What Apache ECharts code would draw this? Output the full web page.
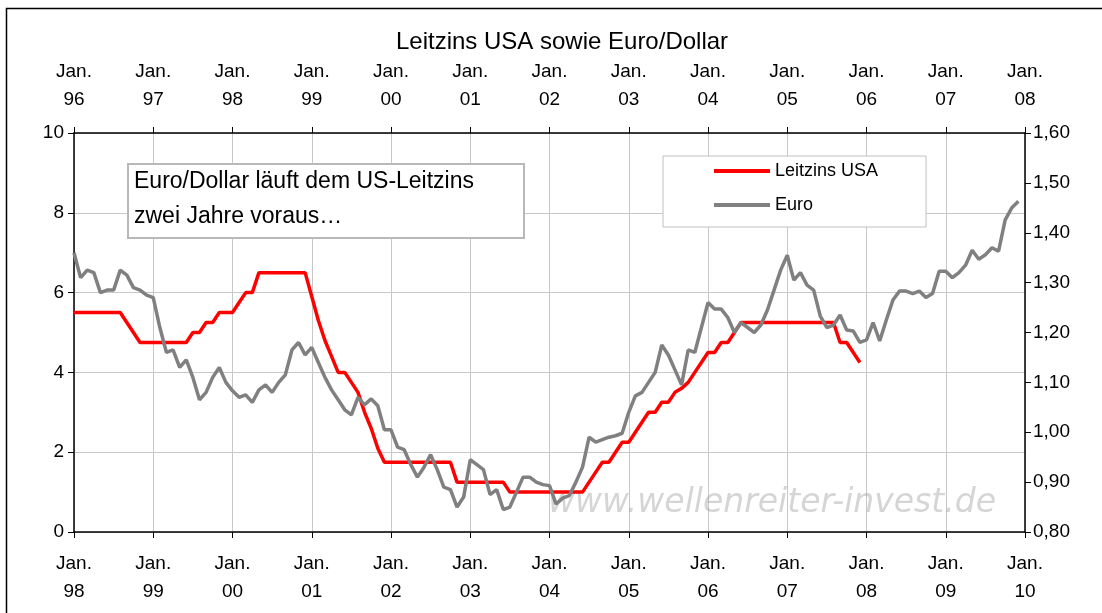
<!DOCTYPE html>
<html>
<head>
<meta charset="utf-8">
<script src="https://cdn.jsdelivr.net/npm/echarts@6/dist/echarts.min.js"></script>
<style>
  html, body { margin: 0; padding: 0; background: #fff; }
  #chart { width: 1102px; height: 613px; }
</style>
</head>
<body>
<div id="chart"></div>
<script>
// Leitzins USA, monatlich ab Jan. 98 (untere Achse)
var leitzinsValues = [
    5.5, 5.5, 5.5, 5.5, 5.5, 5.5, 5.5, 5.5, 5.25, 5.0, 4.75, 4.75,
    4.75, 4.75, 4.75, 4.75, 4.75, 4.75, 5.0, 5.0, 5.25, 5.25, 5.5, 5.5,
    5.5, 5.75, 6.0, 6.0, 6.5, 6.5, 6.5, 6.5, 6.5, 6.5, 6.5, 6.5,
    5.9, 5.3, 4.8, 4.4, 4.0, 4.0, 3.75, 3.5, 3.0, 2.6, 2.1, 1.75,
    1.75, 1.75, 1.75, 1.75, 1.75, 1.75, 1.75, 1.75, 1.75, 1.75, 1.25, 1.25,
    1.25, 1.25, 1.25, 1.25, 1.25, 1.25, 1.0, 1.0, 1.0, 1.0, 1.0, 1.0,
    1.0, 1.0, 1.0, 1.0, 1.0, 1.0, 1.25, 1.5, 1.75, 1.75, 2.0, 2.25,
    2.25, 2.5, 2.75, 3.0, 3.0, 3.25, 3.25, 3.5, 3.6, 3.75, 4.0, 4.25,
    4.5, 4.5, 4.75, 4.75, 5.0, 5.25, 5.25, 5.25, 5.25, 5.25, 5.25, 5.25,
    5.25, 5.25, 5.25, 5.25, 5.25, 5.25, 5.25, 5.25, 4.75, 4.75, 4.5, 4.25
];
// Euro/Dollar, monatlich ab Jan. 96 (obere Achse)
var euroValues = [
    1.36, 1.31, 1.325, 1.32, 1.28, 1.285, 1.285, 1.325, 1.315, 1.29, 1.285, 1.275,
    1.27, 1.21, 1.16, 1.165, 1.13, 1.145, 1.11, 1.065, 1.08, 1.11, 1.13, 1.10,
    1.083, 1.07, 1.075, 1.06, 1.085, 1.095, 1.08, 1.10, 1.115, 1.165, 1.18, 1.155,
    1.17, 1.14, 1.11, 1.085, 1.065, 1.045, 1.035, 1.07, 1.055, 1.067, 1.053, 1.005,
    1.005, 0.97, 0.965, 0.935, 0.91, 0.93, 0.955, 0.925, 0.89, 0.885, 0.85, 0.87,
    0.945, 0.935, 0.925, 0.875, 0.885, 0.845, 0.85, 0.88, 0.91, 0.91, 0.90, 0.895,
    0.893, 0.856, 0.868, 0.873, 0.90, 0.93, 0.99, 0.98, 0.985, 0.99, 0.993, 0.998,
    1.04, 1.073, 1.08, 1.10, 1.12, 1.175, 1.155, 1.125, 1.095, 1.165, 1.16, 1.21,
    1.26, 1.247, 1.247, 1.23, 1.20, 1.22, 1.21, 1.20, 1.215, 1.245, 1.285, 1.325,
    1.355, 1.305, 1.32, 1.295, 1.285, 1.233, 1.21, 1.215, 1.235, 1.205, 1.203, 1.18,
    1.185, 1.22, 1.183, 1.225, 1.265, 1.283, 1.283, 1.278, 1.283, 1.27, 1.278, 1.323,
    1.323, 1.31, 1.32, 1.335, 1.365, 1.347, 1.356, 1.37, 1.363, 1.426, 1.45, 1.463
];
var bottomStartYear = 98;
var topStartYear = 96;

var FONT = '"Liberation Sans", Arial, sans-serif';

function janLabel(start) {
    return function (v) {
        var y = (start + v / 12) % 100;
        return 'Jan.\n' + (y < 10 ? '0' : '') + y;
    };
}

var chart = echarts.init(document.getElementById('chart'));

var xCommon = {
    type: 'value',
    min: 0,
    max: 144,
    interval: 12,
    axisLine: { onZero: false, lineStyle: { color: '#000', width: 1.5 } },
    axisTick: { show: true, length: 6, lineStyle: { color: '#000' } },
    axisLabel: { fontSize: 19, lineHeight: 28, color: '#000', fontFamily: FONT }
};

var option = {
    animation: false,
    textStyle: { fontFamily: FONT },
    title: {
        text: 'Leitzins USA sowie Euro/Dollar',
        left: 557,
        top: 25,
        textAlign: 'center',
        textStyle: { fontSize: 24, fontWeight: 'normal', color: '#000', fontFamily: FONT }
    },
    grid: {
        left: 74,
        right: 77,
        top: 133,
        bottom: 81,
        outerBoundsMode: 'none'
    },
    legend: {
        orient: 'vertical',
        left: 663,
        top: 156,
        backgroundColor: '#fff',
        borderColor: '#c0c0c0',
        borderWidth: 1,
        padding: [5, 48, 12, 51],
        itemWidth: 56,
        itemHeight: 4,
        itemGap: 14,
        icon: 'rect',
        textStyle: { fontSize: 18, lineHeight: 20, color: '#000', fontFamily: FONT },
        data: ['Leitzins USA', 'Euro']
    },
    xAxis: [
        Object.assign({}, xCommon, {
            position: 'bottom',
            axisLabel: Object.assign({}, xCommon.axisLabel, { margin: 18, formatter: janLabel(bottomStartYear) }),
            splitLine: { show: true, lineStyle: { color: '#c8c8c8', width: 1 } }
        }),
        Object.assign({}, xCommon, {
            position: 'top',
            axisLabel: Object.assign({}, xCommon.axisLabel, { margin: 19, formatter: janLabel(topStartYear) }),
            splitLine: { show: false }
        })
    ],
    yAxis: [
        {
            type: 'value',
            min: 0,
            max: 10,
            interval: 2,
            axisLine: { show: true, onZero: false, lineStyle: { color: '#000', width: 1.5 } },
            axisTick: { show: true, length: 6, lineStyle: { color: '#000' } },
            axisLabel: { fontSize: 19, margin: 10, color: '#000', fontFamily: FONT },
            splitLine: { show: true, lineStyle: { color: '#c8c8c8', width: 1 } }
        },
        {
            type: 'value',
            position: 'right',
            min: 0.8,
            max: 1.6,
            interval: 0.1,
            axisLine: { show: true, onZero: false, lineStyle: { color: '#000', width: 1.5 } },
            axisTick: { show: true, length: 6, lineStyle: { color: '#000' } },
            axisLabel: {
                fontSize: 19, margin: 8, color: '#000', fontFamily: FONT,
                formatter: function (v) { return v.toFixed(2).replace('.', ','); }
            },
            splitLine: { show: false }
        }
    ],
    series: [
        {
            name: 'Leitzins USA',
            type: 'line',
            xAxisIndex: 0,
            yAxisIndex: 0,
            symbol: 'none',
            color: '#ff0000',
            lineStyle: { width: 3.5, color: '#ff0000' },
            data: leitzinsValues.map(function (v, i) { return [i, v]; }),
            z: 3
        },
        {
            name: 'Euro',
            type: 'line',
            xAxisIndex: 1,
            yAxisIndex: 1,
            symbol: 'none',
            color: '#808080',
            lineStyle: { width: 3.5, color: '#808080' },
            data: euroValues.map(function (v, i) { return [i, v]; }),
            z: 4
        }
    ],
    graphic: [
        {
            type: 'rect',
            z: 0,
            silent: true,
            shape: { x: 6.5, y: 8.5, width: 1200, height: 800 },
            style: { fill: 'none', stroke: '#000', lineWidth: 1.5 }
        },
        {
            type: 'text',
            z: 1,
            silent: true,
            x: 548,
            y: 503,
            style: {
                text: 'www.wellenreiter-invest.de',
                font: 'italic 33px "DejaVu Sans", Verdana, sans-serif',
                fill: 'rgba(150,150,150,0.4)',
                verticalAlign: 'middle'
            }
        },
        {
            type: 'group',
            z: 10,
            children: [
                {
                    type: 'rect',
                    z: 10,
                    shape: { x: 128, y: 164, width: 396, height: 74 },
                    style: { fill: '#fff', stroke: '#b8b8b8', lineWidth: 2 }
                },
                {
                    type: 'text',
                    z: 11,
                    x: 134,
                    y: 164.5,
                    style: {
                        text: 'Euro/Dollar läuft dem US-Leitzins\nzwei Jahre voraus…',
                        fontSize: 23,
                        lineHeight: 35,
                        fontFamily: FONT,
                        fill: '#000',
                        verticalAlign: 'top'
                    }
                }
            ]
        }
    ]
};

chart.setOption(option);
</script>
</body>
</html>
